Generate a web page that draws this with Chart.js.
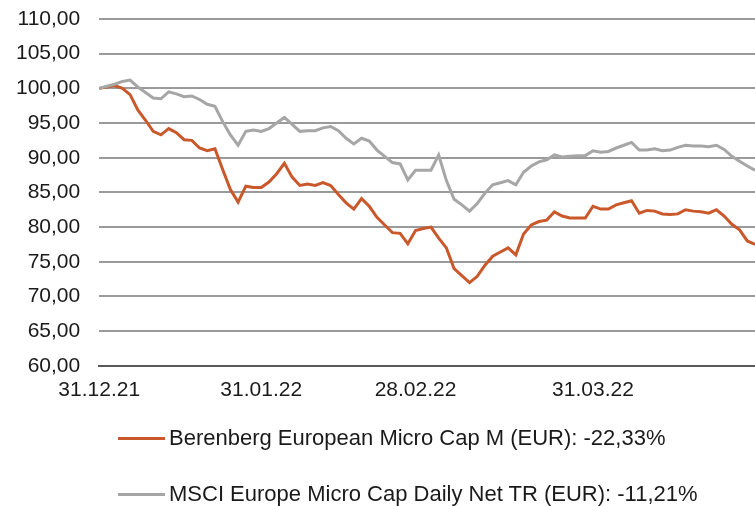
<!DOCTYPE html>
<html>
<head>
<meta charset="utf-8">
<script src="https://cdn.jsdelivr.net/npm/chart.js@4"></script>
<style>
  html, body { margin: 0; padding: 0; background: #fff; }
  #wrap { position: relative; width: 755px; height: 506px; overflow: hidden; }
  #legend { position: absolute; left: 0; top: 0; width: 755px; height: 506px; pointer-events: none; }
  .item { position: absolute; left: 118px; display: flex; align-items: center; font-family: 'Liberation Sans', Arial, sans-serif; font-size: 22px; color: #1a1a1a; white-space: nowrap; }
  .swatch { width: 47px; height: 3px; margin-right: 4px; }
</style>
</head>
<body>
<div id="wrap">
  <canvas id="chart" width="755" height="506"></canvas>
  <div id="legend"></div>
</div>
<script>
// tick labels on the x axis (trading day index -> date)
const dateLabels = ['31.12.21', '31.01.22', '28.02.22', '31.03.22']
const dateLabelIndex = [0, 21, 41, 64]

const seriesNames = [
  'Berenberg European Micro Cap M (EUR): -22,33%',
  'MSCI Europe Micro Cap Daily Net TR (EUR): -11,21%'
]
const seriesColors = ['#C9582B', '#A6A6A6']

// indexed to 100, one value per trading day
const berenberg = [
  100.0, 100.2, 100.4, 100.0, 99.1, 96.9, 95.4, 93.8, 93.3, 94.2,
  93.6, 92.6, 92.5, 91.4, 91.0, 91.3, 88.3, 85.4, 83.6, 85.9,
  85.7, 85.7, 86.5, 87.7, 89.2, 87.2, 86.0, 86.2, 86.0, 86.4,
  86.0, 84.7, 83.5, 82.6, 84.1, 83.0, 81.4, 80.3, 79.2, 79.1,
  77.6, 79.5, 79.8, 80.0, 78.4, 77.0, 74.0, 73.0, 72.0, 72.9,
  74.5, 75.8, 76.4, 77.0, 76.0, 79.0, 80.3, 80.8, 81.0, 82.2,
  81.6, 81.3, 81.3, 81.3, 83.0, 82.6, 82.6, 83.2, 83.5, 83.8,
  82.0, 82.4, 82.3, 81.9, 81.8, 81.9, 82.5, 82.3, 82.2, 82.0,
  82.5, 81.6, 80.4, 79.6, 78.0, 77.5
]
const msci = [
  100.0, 100.3, 100.6, 101.0, 101.2, 100.2, 99.4, 98.6, 98.5, 99.5,
  99.2, 98.8, 98.9, 98.4, 97.7, 97.4, 95.2, 93.3, 91.8, 93.8,
  94.0, 93.8, 94.2, 95.0, 95.8, 94.8, 93.8, 93.9, 93.9, 94.3,
  94.5, 93.9, 92.8, 92.0, 92.8, 92.4, 91.1, 90.2, 89.3, 89.1,
  86.8, 88.2, 88.2, 88.2, 90.4, 86.7, 84.0, 83.2, 82.3, 83.4,
  84.9, 86.1, 86.4, 86.7, 86.1, 87.9, 88.8, 89.4, 89.7, 90.4,
  90.1, 90.2, 90.3, 90.3, 91.0, 90.8, 90.9, 91.4, 91.8, 92.2,
  91.1, 91.1, 91.3, 91.0, 91.1, 91.5, 91.8, 91.7, 91.7, 91.6,
  91.8, 91.2, 90.2, 89.5, 88.8, 88.2
]

const days = berenberg.map((_, i) => i)
const font = { family: "'Liberation Sans', Arial, sans-serif", size: 21 }

const chart = new Chart(document.getElementById('chart'), {
  type: 'line',
  data: {
    labels: days,
    datasets: [berenberg, msci].map((d, i) => ({
      label: seriesNames[i],
      data: d,
      borderColor: seriesColors[i],
      borderWidth: 3,
      pointRadius: 0,
      pointHoverRadius: 0,
      tension: 0,
      fill: false
    })).reverse()
  },
  options: {
    responsive: false,
    animation: false,
    devicePixelRatio: 1,
    layout: { autoPadding: false, padding: { left: 16, top: 19, right: 0, bottom: 103 } },
    plugins: { legend: { display: false }, tooltip: { enabled: false } },
    scales: {
      x: {
        type: 'category',
        offset: false,
        // invisible tick marks give the gap between axis and labels
        grid: { display: true, drawOnChartArea: false, drawTicks: true, tickLength: 12, color: 'rgba(0,0,0,0)' },
        border: { display: true, color: '#595959', width: 2 },
        ticks: {
          autoSkip: false, maxRotation: 0, padding: 0, color: '#1a1a1a', font,
          callback: (v, i) => {
            const k = dateLabelIndex.indexOf(i)
            return k >= 0 ? dateLabels[k] : ''
          }
        }
      },
      y: {
        min: 60, max: 110,
        grid: { color: '#9a9a9a', lineWidth: 2, drawTicks: true, tickLength: 19, tickColor: 'rgba(0,0,0,0)' },
        border: { display: false },
        ticks: {
          stepSize: 5, padding: 0, color: '#1a1a1a', font,
          callback: v => v.toFixed(2).replace('.', ',')
        }
      }
    }
  }
})

// legend below the plot, one row per series
const legend = document.getElementById('legend')
const legendTops = [438, 494]
seriesNames.forEach((name, i) => {
  const row = document.createElement('div')
  row.className = 'item'
  row.style.top = (legendTops[i] - 13) + 'px'
  row.innerHTML = `<span class="swatch" style="background:${seriesColors[i]}"></span><span>${name}</span>`
  legend.appendChild(row)
})
</script>
</body>
</html>
